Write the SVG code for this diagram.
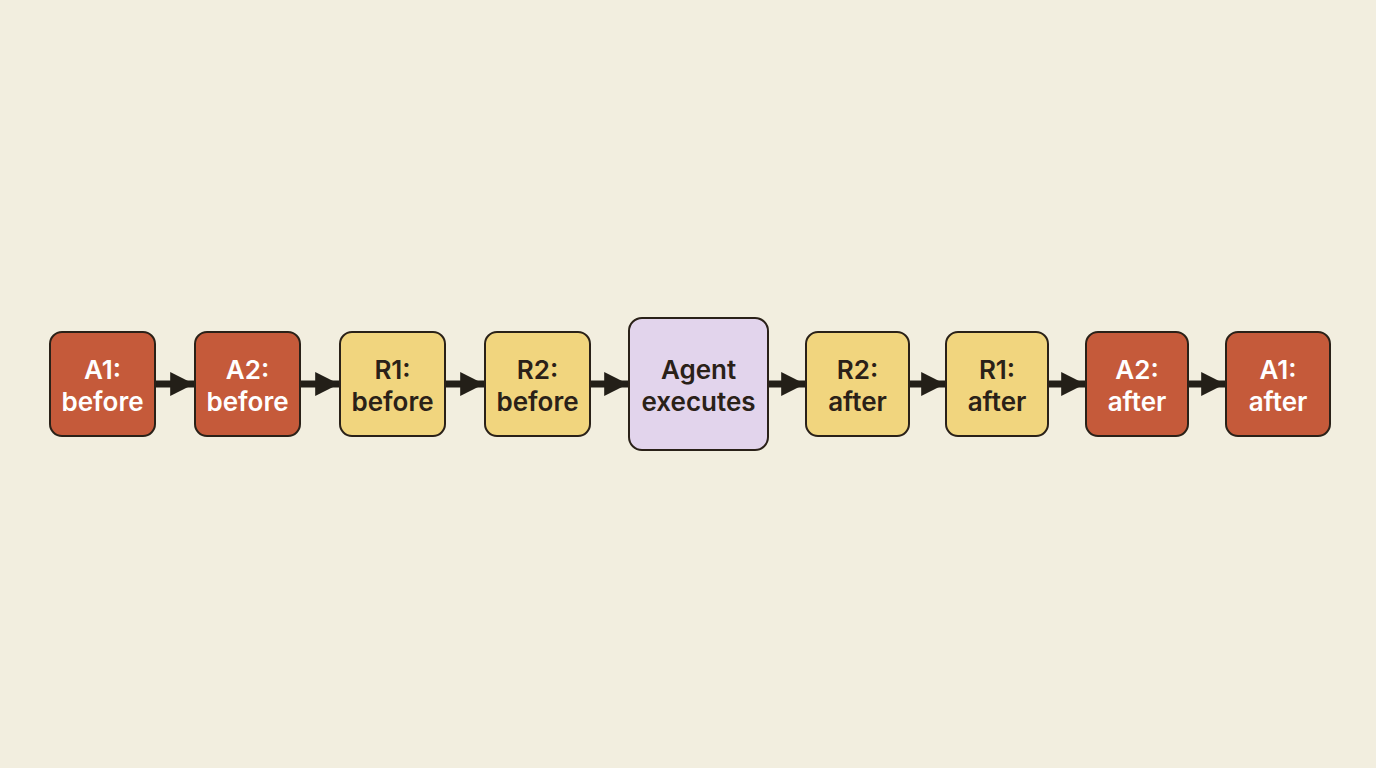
<svg xmlns="http://www.w3.org/2000/svg" width="1376" height="768" viewBox="0 0 1376 768">
<defs>
<style>
.box{stroke:#2a2118;stroke-width:2}
.red{fill:#C55A3A}
.yel{fill:#F1D57E}
.pur{fill:#E2D4EC}
text{font-family:Inter,"Liberation Sans",sans-serif;font-weight:600;font-size:26px;text-anchor:middle}
.w{fill:#FFFFFF}
.d{fill:#2a2118}
.conn{stroke:#231f18;stroke-width:7;fill:none}
</style>
<marker id="ah" viewBox="0 0 10 10" refX="10" refY="5" markerWidth="3.4" markerHeight="3.4" markerUnits="strokeWidth" orient="auto">
<path d="M0,0 L10,5 L0,10 Z" fill="#231f18"/>
</marker>
</defs>
<rect width="1376" height="768" fill="#F2EEDF"/>
<g id="connectors">
<line class="conn" x1="155" y1="384" x2="194" y2="384" marker-end="url(#ah)"/>
<line class="conn" x1="300" y1="384" x2="339" y2="384" marker-end="url(#ah)"/>
<line class="conn" x1="445" y1="384" x2="484" y2="384" marker-end="url(#ah)"/>
<line class="conn" x1="590" y1="384" x2="628" y2="384" marker-end="url(#ah)"/>
<line class="conn" x1="768" y1="384" x2="805" y2="384" marker-end="url(#ah)"/>
<line class="conn" x1="909" y1="384" x2="945" y2="384" marker-end="url(#ah)"/>
<line class="conn" x1="1048" y1="384" x2="1085" y2="384" marker-end="url(#ah)"/>
<line class="conn" x1="1188" y1="384" x2="1225" y2="384" marker-end="url(#ah)"/>
</g>
<g id="a1-before"><rect class="box red" x="50" y="332" width="105" height="104" rx="12"/><text class="w" x="102.5" y="379">A1:</text><text class="w" x="102.5" y="411">before</text></g>
<g id="a2-before"><rect class="box red" x="195" y="332" width="105" height="104" rx="12"/><text class="w" x="247.5" y="379">A2:</text><text class="w" x="247.5" y="411">before</text></g>
<g id="r1-before"><rect class="box yel" x="340" y="332" width="105" height="104" rx="12"/><text class="d" x="392.5" y="379">R1:</text><text class="d" x="392.5" y="411">before</text></g>
<g id="r2-before"><rect class="box yel" x="485" y="332" width="105" height="104" rx="12"/><text class="d" x="537.5" y="379">R2:</text><text class="d" x="537.5" y="411">before</text></g>
<g id="agent"><rect class="box pur" x="629" y="318" width="139" height="132" rx="13"/><text class="d" x="698.5" y="379">Agent</text><text class="d" x="698.5" y="411">executes</text></g>
<g id="r2-after"><rect class="box yel" x="806" y="332" width="103" height="104" rx="12"/><text class="d" x="857.5" y="379">R2:</text><text class="d" x="857.5" y="411">after</text></g>
<g id="r1-after"><rect class="box yel" x="946" y="332" width="102" height="104" rx="12"/><text class="d" x="997" y="379">R1:</text><text class="d" x="997" y="411">after</text></g>
<g id="a2-after"><rect class="box red" x="1086" y="332" width="102" height="104" rx="12"/><text class="w" x="1137" y="379">A2:</text><text class="w" x="1137" y="411">after</text></g>
<g id="a1-after"><rect class="box red" x="1226" y="332" width="104" height="104" rx="12"/><text class="w" x="1278" y="379">A1:</text><text class="w" x="1278" y="411">after</text></g>
</svg>
